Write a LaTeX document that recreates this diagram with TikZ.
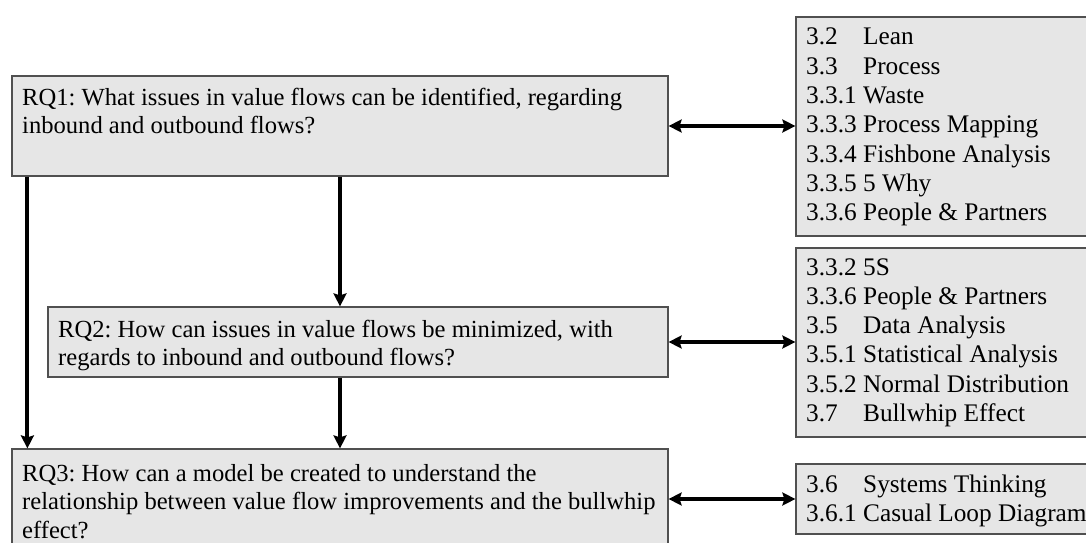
\documentclass[tikz,border=0pt]{standalone}
\usepackage{fontspec}
\setmainfont{Liberation Serif}
\usetikzlibrary{arrows.meta}
\definecolor{boxfill}{HTML}{E6E6E6}
\definecolor{boxline}{HTML}{505050}
\newcommand{\qfont}{\fontsize{24.6}{28.6}\selectfont\frenchspacing}
\newcommand{\sfont}{\fontsize{25.3}{29.3}\selectfont\frenchspacing}
\newcommand{\secno}[1]{\makebox[57pt][l]{#1}}
\begin{document}
\begin{tikzpicture}[x=1pt,y=-1pt,
  qbox/.style={draw=boxline,fill=boxfill,line width=1.2pt,rectangle,inner sep=0pt},
  txt/.style={anchor=base west,inner sep=0pt},
  arr/.style={line width=4pt,-{Stealth[length=13pt,width=13pt,inset=2pt]}},
  biarr/.style={line width=4pt,{Stealth[length=13pt,width=13pt,inset=2pt]}-{Stealth[length=13pt,width=13pt,inset=2pt]}}]
\useasboundingbox (0,0) rectangle (1086,543);
\clip (0,0) rectangle (1086,543);

% research question boxes
\node[qbox,minimum width=656pt,minimum height=100pt] (rq1) at (340,126) {};
\node[qbox,minimum width=620pt,minimum height=70pt]  (rq2) at (358,342) {};
\node[qbox,minimum width=656pt,minimum height=100pt] (rq3) at (340,499) {};

% theory section boxes
\node[qbox,minimum width=296pt,minimum height=219pt] (t1) at (944,126.5) {};
\node[qbox,minimum width=296pt,minimum height=189pt] (t2) at (944,342.5) {};
\node[qbox,minimum width=296pt,minimum height=70pt]  (t3) at (944,499) {};

% texts
\node[txt] (q1txt) at (22,105) {\parbox[t]{700pt}{\qfont\raggedright
  RQ1: What issues in value flows can be identified, regarding\\
  inbound and outbound flows?}};
\node[txt] (q2txt) at (58,337) {\parbox[t]{700pt}{\qfont\raggedright
  RQ2: How can issues in value flows be minimized, with\\
  regards to inbound and outbound flows?}};
\node[txt] (q3txt) at (22,481) {\parbox[t]{700pt}{\qfont\raggedright
  RQ3: How can a model be created to understand the\\
  relationship between value flow improvements and the bullwhip\\
  effect?}};

\node[txt] (t1txt) at (806,45) {\parbox[t]{300pt}{\sfont\raggedright
  \secno{3.2}Lean\\
  \secno{3.3}Process\\
  \secno{3.3.1}Waste\\
  \secno{3.3.3}Process Mapping\\
  \secno{3.3.4}Fishbone Analysis\\
  \secno{3.3.5}5 Why\\
  \secno{3.3.6}People \& Partners}};
\node[txt] (t2txt) at (806,275) {\parbox[t]{300pt}{\sfont\raggedright
  \secno{3.3.2}5S\\
  \secno{3.3.6}People \& Partners\\
  \secno{3.5}Data Analysis\\
  \secno{3.5.1}Statistical Analysis\\
  \secno{3.5.2}Normal Distribution\\
  \secno{3.7}Bullwhip Effect}};
\node[txt] (t3txt) at (806,492) {\parbox[t]{300pt}{\sfont\raggedright
  \secno{3.6}Systems Thinking\\
  \secno{3.6.1}Casual Loop Diagram}};

% links between questions and theory
\draw[biarr] (rq1.east) -- (rq1.east -| t1.west);
\draw[biarr] (rq2.east) -- (rq2.east -| t2.west);
\draw[biarr] (rq3.east) -- (rq3.east -| t3.west);

% flow between questions
\coordinate (lft) at ([xshift=16pt]rq1.south west);
\draw[arr] (lft) -- (lft |- rq3.north);
\draw[arr] (rq1.south) -- (rq1.south |- rq2.north);
\draw[arr] (rq1.south |- rq2.south) -- (rq1.south |- rq3.north);
\end{tikzpicture}
\end{document}
